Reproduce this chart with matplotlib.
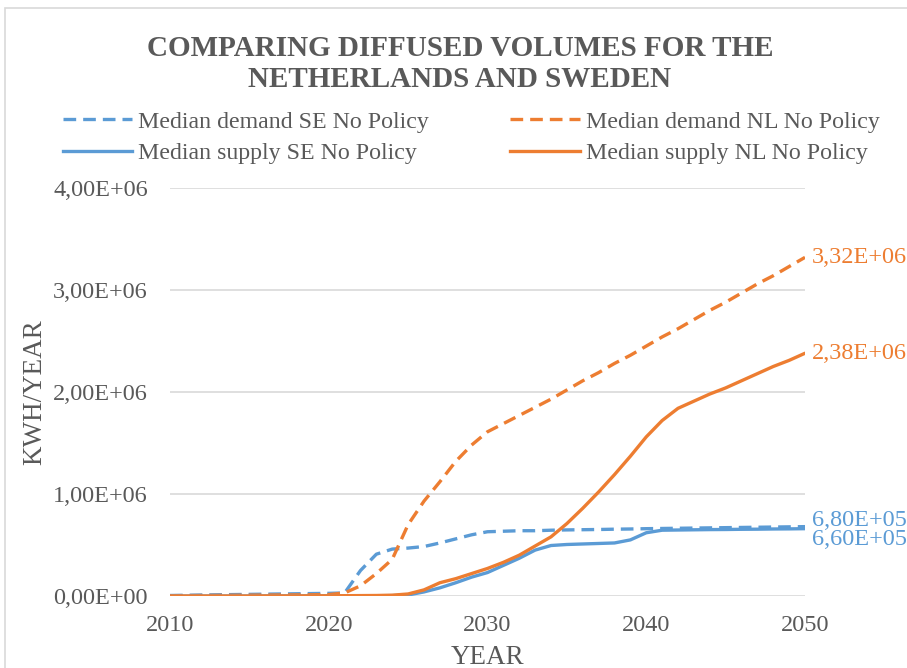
import matplotlib
matplotlib.use("Agg")
import matplotlib.pyplot as plt
from matplotlib.patches import Rectangle
from matplotlib.lines import Line2D

plt.rcParams['font.family'] = ['Liberation Serif', 'DejaVu Serif']

years = list(range(2010, 2051))

demand_se = [0.005, 0.007, 0.010, 0.012, 0.014, 0.016, 0.018, 0.020, 0.022, 0.024, 0.026,
             0.030, 0.250, 0.410, 0.460, 0.470, 0.485, 0.520, 0.560, 0.600, 0.630,
             0.635, 0.640, 0.640, 0.645, 0.648, 0.650, 0.652, 0.655, 0.657, 0.660,
             0.662, 0.664, 0.666, 0.668, 0.670, 0.672, 0.674, 0.676, 0.678, 0.680]
demand_nl = [0.003, 0.004, 0.005, 0.006, 0.007, 0.008, 0.009, 0.010, 0.011, 0.012, 0.014,
             0.030, 0.100, 0.220, 0.360, 0.700, 0.930, 1.120, 1.320, 1.480, 1.610,
             1.690, 1.770, 1.850, 1.930, 2.020, 2.110, 2.190, 2.280, 2.360, 2.450,
             2.540, 2.620, 2.710, 2.800, 2.880, 2.970, 3.060, 3.140, 3.230, 3.320]
supply_se = [0.000, 0.000, 0.000, 0.000, 0.000, 0.000, 0.001, 0.001, 0.001, 0.002, 0.002,
             0.002, 0.003, 0.003, 0.004, 0.010, 0.040, 0.080, 0.130, 0.185, 0.230,
             0.300, 0.370, 0.450, 0.495, 0.505, 0.510, 0.515, 0.520, 0.550, 0.620,
             0.645, 0.647, 0.649, 0.651, 0.652, 0.654, 0.655, 0.657, 0.658, 0.660]
supply_nl = [0.000, 0.000, 0.000, 0.000, 0.000, 0.000, 0.001, 0.001, 0.001, 0.002, 0.002,
             0.003, 0.004, 0.005, 0.008, 0.020, 0.060, 0.130, 0.170, 0.220, 0.270,
             0.330, 0.400, 0.490, 0.580, 0.710, 0.860, 1.020, 1.190, 1.370, 1.560,
             1.720, 1.840, 1.910, 1.980, 2.040, 2.110, 2.180, 2.250, 2.310, 2.380]

scale = 1e6
end_labels = ["6,80E+05", "3,32E+06", "6,60E+05", "2,38E+06"]
series_names = ["Median demand SE No Policy", "Median demand NL No Policy",
                "Median supply SE No Policy", "Median supply NL No Policy"]
yticks = [0, 1e6, 2e6, 3e6, 4e6]
ytick_labels = ["0,00E+00", "1,00E+06", "2,00E+06", "3,00E+06", "4,00E+06"]
xticks = [2010, 2020, 2030, 2040, 2050]

BLUE = "#5B9BD5"
ORANGE = "#ED7D31"
GREY = "#595959"

fig = plt.figure(figsize=(9.07, 6.68), dpi=100)
fig.patches.append(Rectangle((5 / 907, -0.05), 1.2, 1 - 8 / 668 + 0.05,
                             transform=fig.transFigure, fill=False,
                             edgecolor="#D9D9D9", linewidth=1.2))

ax = fig.add_axes([170 / 907, 1 - 596 / 668, 635 / 907, 408 / 668])

lw = 2.4
dash = (0, (3.8, 2.1))
series = [
    (demand_se, BLUE, dash),
    (demand_nl, ORANGE, dash),
    (supply_se, BLUE, "-"),
    (supply_nl, ORANGE, "-"),
]
for vals, color, ls in series:
    ax.plot(years, [v * scale for v in vals], color=color, linestyle=ls,
            linewidth=lw, solid_capstyle="round", dash_capstyle="butt", zorder=3)

ax.set_xlim(2010, 2050)
ax.set_ylim(0, 4e6)
ax.set_yticks(yticks)
ax.set_yticklabels(ytick_labels)
ax.set_xticks(xticks)
ax.set_xticklabels([str(x) for x in xticks])
ax.tick_params(axis="both", length=0, labelsize=17.5, labelcolor=GREY)
ax.tick_params(axis="x", pad=14)
ax.tick_params(axis="y", pad=16)
ax.grid(axis="y", color="#D9D9D9", linewidth=1.2, zorder=0)
for s in ax.spines.values():
    s.set_visible(False)

ax.set_xlabel("YEAR", fontsize=19.5, color=GREY, labelpad=6)
ax.set_ylabel("KWH/YEAR", fontsize=19.5, color=GREY, labelpad=4)

# value labels at the right end of each line
offsets = [-6, 0, 11, 0]
for (vals, color, _), lab, off in zip(series, end_labels, offsets):
    ax.annotate(lab, xy=(years[-1], vals[-1] * scale), xytext=(7, -off),
                textcoords="offset pixels", ha="left", va="center",
                fontsize=17.5, color=color, annotation_clip=False)

fig.text(460 / 907, 1 - 64 / 668, "COMPARING DIFFUSED VOLUMES FOR THE\nNETHERLANDS AND SWEDEN",
         ha="center", va="center", fontsize=21, fontweight="bold", color=GREY,
         linespacing=1.2)

# legend entries laid out row by row: SE on the left, NL on the right
order = [0, 2, 1, 3]
handles = [Line2D([], [], color=series[i][1], linestyle=series[i][2], linewidth=lw)
           for i in order]
labels = [series_names[i] for i in order]
fig.legend(handles, labels, loc="upper left", bbox_to_anchor=(63 / 907, 1 - 111 / 668),
           ncol=2, frameon=False, fontsize=17.2, labelcolor=GREY, handlelength=2.9,
           handletextpad=0.25, columnspacing=3.4, labelspacing=0.42, borderpad=0,
           borderaxespad=0)

fig.savefig("out.png", dpi=100)
